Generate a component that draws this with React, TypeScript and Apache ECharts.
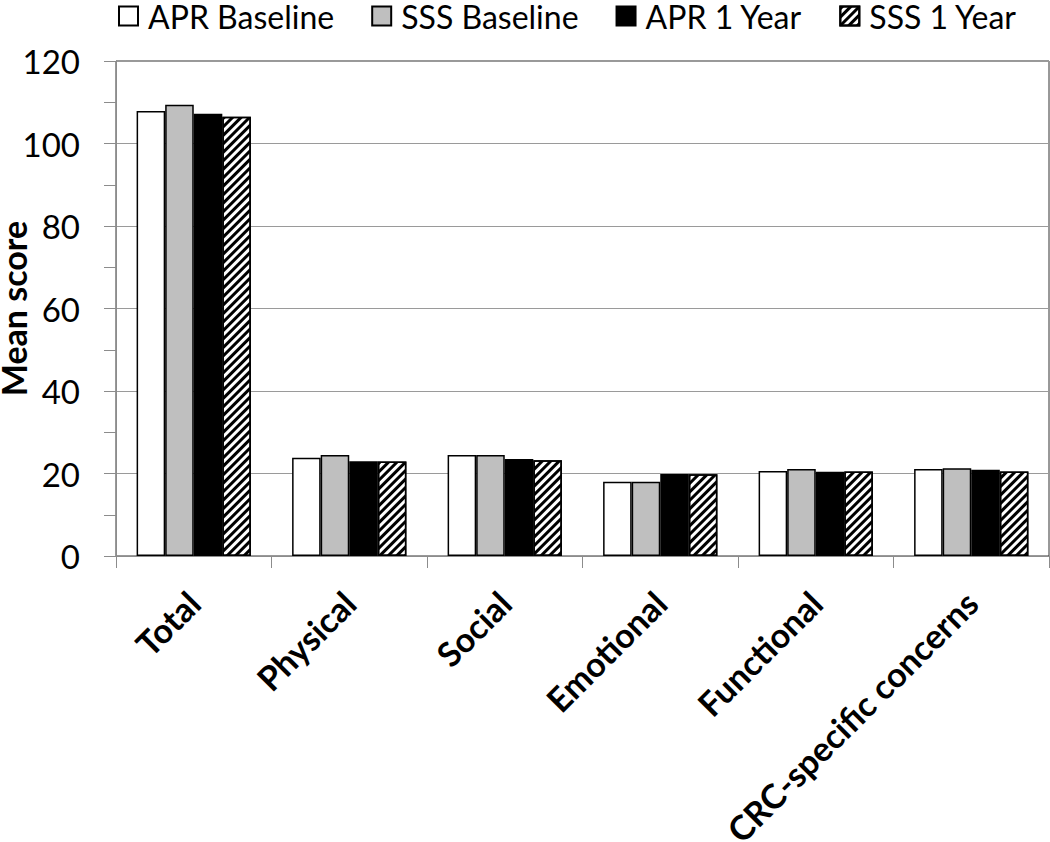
import React, { useEffect, useRef } from "react";
import * as echarts from "echarts";

const categories = ["Total", "Physical", "Social", "Emotional", "Functional", "CRC-specific concerns"];
const seriesNames = ["APR Baseline", "SSS Baseline", "APR 1 Year", "SSS 1 Year"];
const aprBaseline = [107.9, 23.8, 24.5, 18.0, 20.6, 21.1];
const sssBaseline = [109.4, 24.5, 24.5, 18.0, 21.1, 21.3];
const apr1Year = [107.2, 23.0, 23.5, 19.9, 20.4, 20.9];
const sss1Year = [106.5, 22.9, 23.2, 19.8, 20.5, 20.5];
const yTicks = [0, 20, 40, 60, 80, 100, 120];

const FONT = "Lato";

export default function App() {
  const ref = useRef<HTMLDivElement>(null);
  useEffect(() => {
    if (!ref.current) return;
    const chart = echarts.init(ref.current, undefined, { renderer: "svg" });
    const border = { borderColor: "#000", borderWidth: 1.5 };
    const option = {
      animation: false,
      backgroundColor: "#fff",
      textStyle: { fontFamily: FONT },
      legend: {
        top: 0,
        left: 113,
        padding: [0, 5, 0, 5],
        itemWidth: 19,
        itemHeight: 19,
        itemGap: 37,
        icon: "rect",
        textStyle: { fontFamily: FONT, fontSize: 32, lineHeight: 30, color: "#000", padding: [0, 0, 0, 5] },
        data: seriesNames,
      },
      grid: {
        left: 116,
        right: 1,
        top: 61,
        bottom: 286,
        show: true,
        borderColor: "#333",
        borderWidth: 1,
        backgroundColor: "transparent",
        containLabel: false,
        outerBoundsMode: "none",
      },
      xAxis: {
        type: "category",
        data: categories,
        axisLine: { lineStyle: { color: "#8c8c8c", width: 1 } },
        axisTick: { show: true, length: 12, lineStyle: { color: "#8c8c8c" } },
        axisLabel: {
          interval: 0,
          rotate: 45,
          margin: 41,
          fontFamily: FONT,
          fontWeight: "bold",
          fontSize: 34,
          color: "#000",
        },
      },
      yAxis: {
        type: "value",
        min: yTicks[0],
        max: yTicks[yTicks.length - 1],
        interval: 20,
        name: "Mean score",
        nameLocation: "middle",
        nameRotate: 90,
        nameGap: 86,
        nameMoveOverlap: false,
        nameTextStyle: { fontFamily: FONT, fontWeight: "bold", fontSize: 34, color: "#000" },
        axisLine: { show: true, lineStyle: { color: "#8c8c8c", width: 1 } },
        axisTick: { show: true, length: 12, lineStyle: { color: "#8c8c8c" } },
        minorTick: { show: true, splitNumber: 2, length: 12, lineStyle: { color: "#8c8c8c" } },
        axisLabel: { margin: 36, fontFamily: FONT, fontSize: 33, color: "#000" },
        splitLine: { show: true, lineStyle: { color: "#9a9a9a", width: 1 } },
      },
      series: [
        {
          name: seriesNames[0],
          type: "bar",
          data: aprBaseline,
          barGap: "0%",
          barCategoryGap: "26.5%",
          itemStyle: { color: "#fff", ...border },
        },
        {
          name: seriesNames[1],
          type: "bar",
          data: sssBaseline,
          barGap: "0%",
          barCategoryGap: "26.5%",
          itemStyle: { color: "#bfbfbf", ...border },
        },
        {
          name: seriesNames[2],
          type: "bar",
          data: apr1Year,
          barGap: "0%",
          barCategoryGap: "26.5%",
          itemStyle: { color: "#000", ...border },
        },
        {
          name: seriesNames[3],
          type: "bar",
          data: sss1Year,
          barGap: "0%",
          barCategoryGap: "26.5%",
          itemStyle: {
            color: "#fff",
            ...border,
            decal: {
              symbol: "rect",
              symbolSize: 1,
              dashArrayX: [1, 0],
              dashArrayY: [3, 3],
              rotation: -Math.PI / 4,
              color: "#000",
              backgroundColor: "#fff",
            },
          },
        },
      ],
    };
    chart.setOption(option as any);
    return () => chart.dispose();
  }, []);
  return (
    <div
      ref={ref}
      style={{ position: "fixed", left: 0, top: 0, width: 1050, height: 842, background: "#fff" }}
    />
  );
}
